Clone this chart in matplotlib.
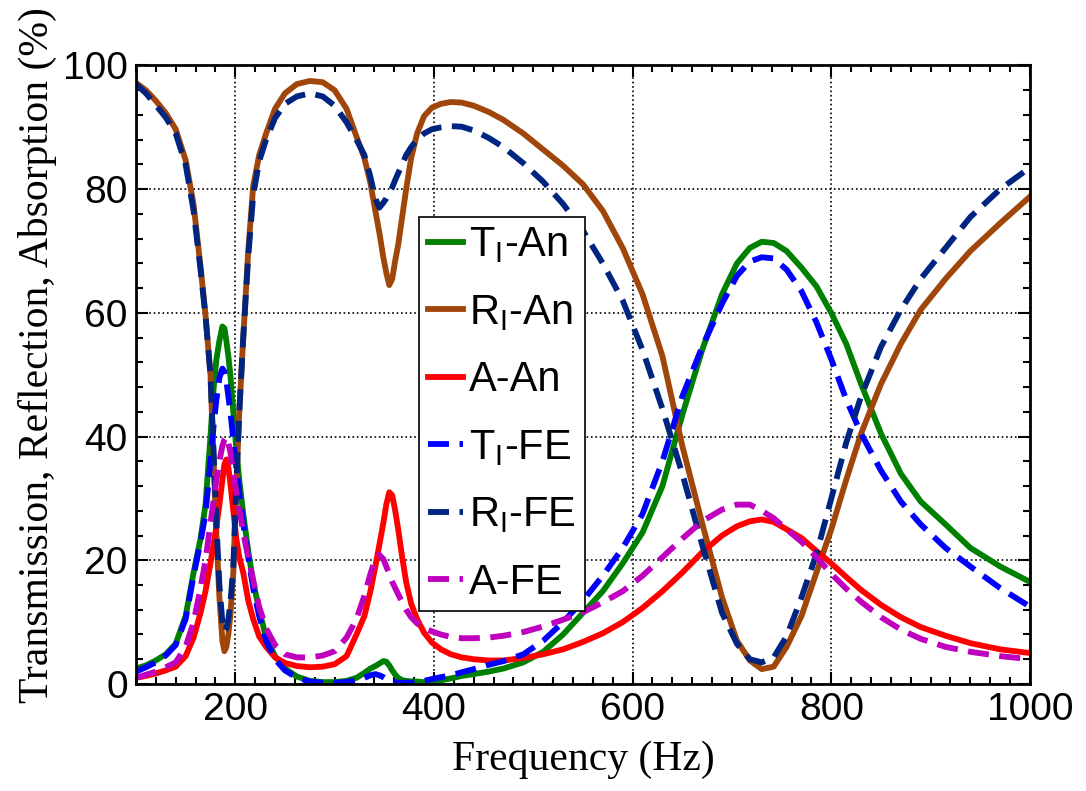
import matplotlib

matplotlib.use("Agg")
import matplotlib.pyplot as plt
from matplotlib.ticker import MultipleLocator

freq = [100, 110, 120, 130, 140, 150, 158, 165, 170, 175, 178, 181,
        184, 187, 189, 191, 193, 195, 198, 201, 204, 208, 213, 218,
        224, 231, 240, 250, 262, 275, 288, 300, 312, 322, 330, 336,
        341, 345, 349, 352, 355, 358, 361, 364, 368, 372, 377, 383,
        390, 398, 407, 417, 428, 440, 455, 470, 490, 510, 530, 550,
        570, 590, 610, 630, 650, 670, 690, 705, 718, 730, 742, 755,
        770, 785, 800, 815, 830, 850, 870, 890, 915, 940, 970, 1000]

t_an = [2.5, 3, 3.8, 4.8, 6.5, 11, 18, 23.5, 29, 40, 47.5, 52.5,
        55.5, 57.8, 57.5, 55.5, 53, 50, 44, 38, 33, 27.5, 21.5, 16.5,
        12, 7.5, 4.5, 2.5, 1.2, 0.5, 0.3, 0.3, 0.5, 1, 1.8, 2.5,
        2.9, 3.3, 3.7, 3.6, 3, 2.2, 1.5, 1, 0.6, 0.5, 0.4, 0.4,
        0.3, 0.3, 0.6, 0.9, 1.3, 1.6, 2, 2.5, 3.5, 5.2, 8, 11.5,
        15, 19.5, 24.5, 32, 43.5, 54, 63, 68, 70.5, 71.5, 71.3, 70,
        67.3, 64.3, 60, 55, 48.5, 40.5, 34, 29.5, 25.8, 22, 19, 16.5]

r_an = [97.2, 96, 94.3, 92.3, 89.7, 84.7, 77.5, 67.5, 59.7, 50, 37, 24,
        14, 7, 5.3, 6, 8, 11, 18, 32, 44, 56, 70, 80.5,
        85.5, 89, 93, 95.5, 97, 97.5, 97.3, 96, 93, 88.5, 85, 81,
        76.5, 73, 69, 66.5, 64.5, 65.5, 68.5, 71, 75.5, 80, 85, 89,
        91.8, 93.2, 93.8, 94.1, 94, 93.5, 92.5, 91.2, 89, 86.4, 83.8, 80.8,
        76.5, 70.5, 63, 53, 38.5, 26, 14, 7, 3.8, 2.4, 2.8, 6,
        11, 18, 25, 33, 40.5, 48.5, 55, 60.5, 65.5, 70, 74.5, 78.8]

a_an = [1, 1.3, 1.7, 2.2, 2.8, 4.5, 7.5, 11.5, 15, 19.5, 22.5, 25.5,
        29, 33, 35.5, 36.3, 35, 32.5, 28, 23.5, 20.5, 18, 13.5, 10.5,
        7.7, 6, 4.3, 3.4, 2.9, 2.7, 2.8, 3.2, 4.5, 8, 11, 15,
        19, 22.5, 26, 29, 31, 30.5, 28, 25, 20.5, 16.5, 13, 10.5,
        8.3, 6.7, 5.6, 4.8, 4.3, 4, 3.8, 3.8, 4.2, 4.8, 5.6, 6.8,
        8.2, 10, 12.3, 15, 18, 21.3, 24, 25.5, 26.3, 26.6, 26.2, 25,
        23.6, 21.5, 19.5, 17.3, 15.2, 12.8, 10.8, 9.2, 7.8, 6.6, 5.6, 5]

t_fe = [2, 2.7, 3.5, 4.6, 6.3, 10.5, 17.5, 23, 27.5, 36, 41.5, 46,
        49.5, 51, 50.5, 49, 46.5, 44, 39.5, 35, 31, 26, 20.5, 15.5,
        11, 7, 4, 2.2, 1, 0.4, 0.2, 0.2, 0.3, 0.6, 1, 1.4,
        1.6, 1.4, 1.1, 0.8, 0.5, 0.3, 0.3, 0.2, 0.2, 0.2, 0.2, 0.3,
        0.5, 0.8, 1.1, 1.4, 1.9, 2.4, 3.1, 3.7, 4.8, 7, 10, 13.5,
        17.5, 22, 27.5, 36, 46.5, 54.5, 61.5, 66, 68.3, 69, 68.8, 67,
        63.5, 58.5, 52.5, 46, 40.5, 34.5, 29.5, 25.8, 22, 19, 15.5, 12.5]

r_fe = [97, 95.5, 93.6, 91.6, 89, 84, 76.5, 67, 59.5, 50, 38, 26,
        16, 10, 8.5, 9, 10.5, 13, 19, 32, 44, 56, 69, 79,
        84.5, 88, 91.5, 93.8, 95, 95.5, 95, 93.5, 90.8, 88, 85.5, 82,
        78.5, 77, 77.8, 78.5, 79.4, 80.3, 81.5, 82.6, 84, 85.5, 86.8, 88,
        89, 89.7, 90, 90.2, 90.1, 89.5, 88.3, 86.8, 84.2, 81.2, 77.6, 73.3,
        68, 62, 54, 44.5, 34, 22.5, 11.5, 6.5, 4, 3.5, 4.3, 7.7,
        14, 21, 30, 39, 46.5, 54.5, 60.5, 65.5, 70.5, 75.5, 80, 83.5]

a_fe = [1, 1.5, 2, 2.7, 3.5, 6, 10, 15.5, 20, 26, 29.5, 33,
        36, 38.5, 39.5, 40, 39, 37.5, 34, 31, 28.3, 24.5, 20.5, 16.8,
        12.5, 9, 6.3, 4.8, 4.3, 4.3, 4.6, 5.3, 7.5, 10.5, 14.3, 17.8,
        20.3, 20.9, 20.2, 19, 17.8, 16.5, 15.5, 14.5, 13.2, 12, 10.8, 9.8,
        9, 8.5, 8, 7.6, 7.4, 7.4, 7.5, 7.8, 8.4, 9.3, 10.4, 11.6,
        13.2, 15, 17.5, 20.5, 23.5, 26.3, 28.2, 29, 29, 28, 26.8, 25,
        23, 20.5, 17.8, 15.4, 13.3, 10.8, 8.8, 7.3, 6, 5.2, 4.5, 4]

series = [
    (t_an, "T$_\\mathregular{I}$-An", "#008000", "-"),
    (r_an, "R$_\\mathregular{I}$-An", "#A0460A", "-"),
    (a_an, "A-An", "#FF0000", "-"),
    (t_fe, "T$_\\mathregular{I}$-FE", "#0000FF", "--"),
    (r_fe, "R$_\\mathregular{I}$-FE", "#002580", "--"),
    (a_fe, "A-FE", "#BF00BF", "--"),
]

plt.rcParams["font.family"] = ["Liberation Sans", "DejaVu Sans"]
plt.rcParams["mathtext.fontset"] = "custom"
plt.rcParams["mathtext.rm"] = "Liberation Sans"

fig = plt.figure(figsize=(10.86, 7.91), dpi=100)
ax = fig.add_axes([0.1252, 0.1353, 0.8232, 0.7819])

for ys, label, color, ls in series:
    kw = {"dashes": (3.6, 1.8)} if ls == "--" else {}
    ax.plot(freq, ys, color=color, linestyle=ls, linewidth=4.2, label=label, **kw)

ax.set_xlim(100, 1000)
ax.set_ylim(0, 100)
ax.set_xticks([200, 400, 600, 800, 1000])
ax.set_yticks([0, 20, 40, 60, 80, 100])
ax.xaxis.set_minor_locator(MultipleLocator(20))
ax.yaxis.set_minor_locator(MultipleLocator(4))
ax.tick_params(which="both", direction="in", top=True, right=True, width=1.5)
ax.tick_params(which="major", length=8.5, labelsize=28, pad=6)
ax.tick_params(which="minor", length=5)
ax.grid(True, which="major", color="black", linestyle=":", linewidth=1.2)
for sp in ax.spines.values():
    sp.set_linewidth(2)

ax.set_xlabel("Frequency (Hz)", family="Liberation Serif", fontsize=30, labelpad=9)
ax.set_ylabel("Transmission, Reflection, Absorption (%)", family="Liberation Serif",
              fontsize=30)
ax.yaxis.set_label_coords(-0.088, 0.532)

leg = ax.legend(loc="upper left", bbox_to_anchor=(0.317, 0.755), fontsize=30,
                handlelength=0.85, handletextpad=0.15, labelspacing=0.66,
                borderpad=0.2, borderaxespad=0, fancybox=False, framealpha=1,
                edgecolor="black")
leg.get_frame().set_linewidth(1.2)

fig.savefig("out.png", dpi=100)
